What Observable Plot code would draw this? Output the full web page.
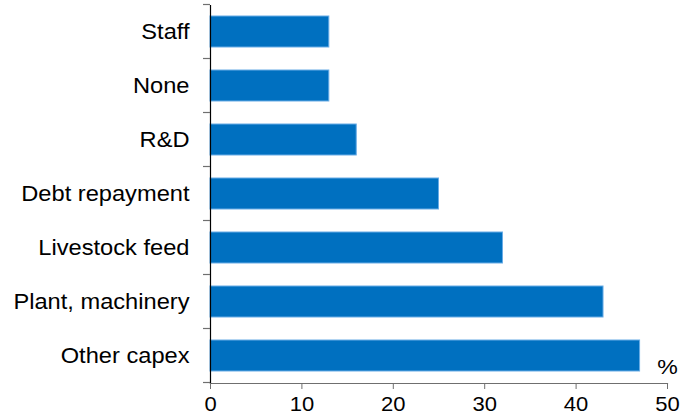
<!DOCTYPE html>
<html>
<head>
<meta charset="utf-8">
<script src="https://cdn.jsdelivr.net/npm/d3@7"></script>
<script src="https://cdn.jsdelivr.net/npm/@observablehq/plot@0.6"></script>
<style>
  html, body { margin: 0; padding: 0; background: #fff; }
  #chart { width: 682px; height: 420px; }
</style>
</head>
<body>
<div id="chart"></div>
<script>
const categories = ["Staff", "None", "R&D", "Debt repayment", "Livestock feed", "Plant, machinery", "Other capex"];
const values = [13, 13, 16, 25, 32, 43, 47];
const xTicks = [0, 10, 20, 30, 40, 50];
const unitLabel = "%";

const data = categories.map((c, i) => ({cat: categories[i], value: values[i]}));

const FONT = "'Liberation Sans', Arial, Helvetica, sans-serif";

// y-axis ticks drawn at band boundaries (as in the reference)
function yBoundaryTicks(index, scales, vals, dims) {
  const y = scales.y;
  const n = categories.length;
  const step = y.step ? y.step() : (dims.height - dims.marginTop - dims.marginBottom) / n;
  const bw = y.bandwidth ? y.bandwidth() : step * 0.58;
  const edges = categories.map(c => y(c) + bw / 2 - step / 2);
  edges.push(y(categories[n - 1]) + bw / 2 + step / 2);
  const x0 = dims.marginLeft;
  const g = d3.create("svg:g");
  g.selectAll("line").data(edges).join("line")
    .attr("x1", x0 - 7).attr("x2", x0)
    .attr("y1", d => d).attr("y2", d => d)
    .attr("stroke", "#6f6f6f").attr("stroke-width", 1.2);
  return g.node();
}

const chart = Plot.plot({
  width: 682,
  height: 420,
  marginLeft: 210,
  marginRight: 15,
  marginTop: 5,
  marginBottom: 37,
  style: {fontFamily: FONT, background: "#fff", color: "#000"},
  x: {domain: [0, 50]},
  y: {domain: categories, paddingInner: 0.42, paddingOuter: 0.21},
  marks: [
    Plot.barX(data, {x: "value", y: "cat", fill: "#0070C0", stroke: "#69ace6", strokeWidth: 1}),
    Plot.frame({anchor: "bottom", stroke: "#6f6f6f", strokeWidth: 1.2}),
    Plot.frame({anchor: "left", stroke: "#000", strokeWidth: 1.2}),
    yBoundaryTicks,
    Plot.axisY({tickSize: 0, tickPadding: 21, fontSize: 21.5, label: null, fill: "#000"}),
    Plot.axisX({ticks: xTicks, tickSize: 6, tickPadding: 7, fontSize: 20, label: null, stroke: "#6f6f6f", fill: "#000", tickFormat: d => String(d)}),
    Plot.text([unitLabel], {frameAnchor: "bottom-right", textAnchor: "middle", dy: -10, fontSize: 21, fill: "#000"})
  ]
});

// the reference's lettering is slightly wide: stretch each label horizontally about its anchor
chart.querySelectorAll("text").forEach(t => {
  const tr = t.getAttribute("transform") || "";
  let pre = "";
  const xa = t.getAttribute("x");
  if (xa !== null && !/[a-z%]/i.test(xa)) {
    const xv = parseFloat(xa);
    if (!isNaN(xv)) { pre = `translate(${xv},0)`; t.removeAttribute("x"); }
  }
  t.setAttribute("transform", `${tr} ${pre} scale(1.1,1)`.trim());
});

document.getElementById("chart").appendChild(chart);
</script>
</body>
</html>
